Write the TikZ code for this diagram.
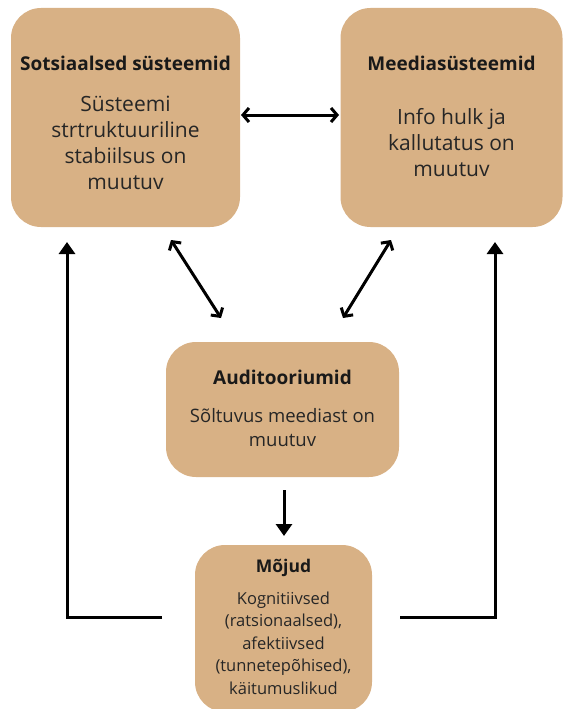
\documentclass[tikz,border=0pt]{standalone}
\usepackage{fontspec}
\setmainfont{Open Sans}
\usetikzlibrary{arrows.meta}
\definecolor{tan}{RGB}{216,177,133}
\tikzset{
  box/.style={fill=tan, rounded corners=30pt, inner sep=0pt},
  ttl/.style={font=\fontsize{19}{22}\selectfont\bfseries, inner sep=0pt, text=black!90},
  bodyL/.style={font=\fontsize{21}{26}\selectfont, align=center, inner sep=0pt, text=black!85},
  bodyM/.style={font=\fontsize{18.5}{24}\selectfont, align=center, inner sep=0pt, text=black!85},
  bodyS/.style={font=\fontsize{16.5}{22.5}\selectfont, align=center, inner sep=0pt, text=black!85},
  link/.style={line width=3pt, {Straight Barb[length=6pt,width=14pt,line width=3pt]}-{Straight Barb[length=6pt,width=14pt,line width=3pt]}},
  flow/.style={line width=3pt, -{Triangle[length=12pt,width=16pt]}}
}
\begin{document}
\begin{tikzpicture}[x=1pt,y=-1pt]
\useasboundingbox (0,0) rectangle (563,709);
% boxes
\node[box, minimum width=229pt, minimum height=219pt] (soc) at (125.5,117.5) {};
\node[box, minimum width=222pt, minimum height=219pt] (med) at (451.5,117.5) {};
\node[box, minimum width=233pt, minimum height=135pt] (aud) at (282.5,409.5) {};
\node[box, minimum width=177pt, minimum height=167pt] (moj) at (283.5,628.5) {};
% titles and texts
\node[ttl] (socT) at (125.5,63) {Sotsiaalsed süsteemid};
\node[bodyL] (socB) at (125.5,143) {Süsteemi\\strtruktuuriline\\stabiilsus on\\muutuv};
\node[ttl] (medT) at (451.5,63) {Meediasüsteemid};
\node[bodyL] (medB) at (451.5,143) {Info hulk ja\\kallutatus on\\muutuv};
\node[ttl] (audT) at (282.5,377) {Auditooriumid};
\node[bodyM] (audB) at (282.5,428) {Sõltuvus meediast on\\muutuv};
\node[ttl, font=\fontsize{17.5}{20}\selectfont\bfseries] (mojT) at (283.5,568) {Mõjud};
\node[bodyS] (mojB) at (283.5,643) {Kognitiivsed\\(ratsionaalsed),\\afektiivsed\\(tunnetepõhised),\\käitumuslikud};
% connector end points
\coordinate (h1) at (241,115);
\coordinate (h2) at (339,115);
\coordinate (dl1) at (171,240);
\coordinate (dl2) at (221,318);
\coordinate (dr1) at (391,240);
\coordinate (dr2) at (343,318);
\coordinate (v1) at (284,490);
\coordinate (v2) at (284,536);
\coordinate (fl0) at (162,617);
\coordinate (fl1) at (67,617);
\coordinate (fl2) at (67,242);
\coordinate (fr0) at (400,617);
\coordinate (fr1) at (495,617);
\coordinate (fr2) at (495,242);
% connectors
\draw[link] (h1) -- (h2);
\draw[link] (dl1) -- (dl2);
\draw[link] (dr1) -- (dr2);
\draw[flow] (v1) -- (v2);
\draw[flow] (fl0) -- (fl1) -- (fl2);
\draw[flow] (fr0) -- (fr1) -- (fr2);
\end{tikzpicture}
\end{document}
